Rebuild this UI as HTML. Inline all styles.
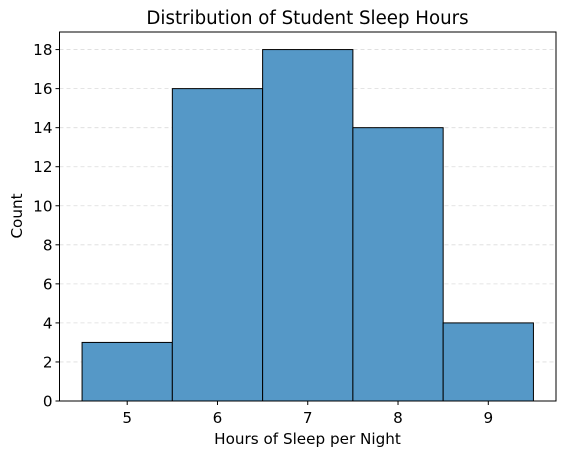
<!DOCTYPE html>
<html><head><meta charset="utf-8"><style>
body{margin:0;background:#fff;}
svg text{font-family:"DejaVu Sans","Liberation Sans",sans-serif;fill:#000;}
</style></head><body>
<svg id="chart" width="565" height="457" viewBox="0 0 565 457" xmlns="http://www.w3.org/2000/svg">
<text x="307.5" y="24" font-size="18.2" text-anchor="middle">Distribution of Student Sleep Hours</text>
<g id="grid"></g>
<g id="bars"></g>
<g id="axes"></g>
<text x="307.5" y="444" font-size="15.2" text-anchor="middle">Hours of Sleep per Night</text>
<text x="22" y="216" font-size="15.2" text-anchor="middle" transform="rotate(-90 22 216)">Count</text>
</svg>
<script>
const categories = [5, 6, 7, 8, 9];
const counts = [3, 16, 18, 14, 4];
const yTicks = [0, 2, 4, 6, 8, 10, 12, 14, 16, 18];
const xTicks = [5, 6, 7, 8, 9];

const L = 59.5, R = 556, T = 32, B = 401;
const xMin = 4.25, xMax = 9.75, yMin = 0, yMax = 18.9;
const xs = v => L + (v - xMin) / (xMax - xMin) * (R - L);
const ys = v => B - (v - yMin) / (yMax - yMin) * (B - T);
const NS = "http://www.w3.org/2000/svg";
function mk(tag, attrs, parent) {
  const e = document.createElementNS(NS, tag);
  for (const k in attrs) e.setAttribute(k, attrs[k]);
  parent.appendChild(e);
  return e;
}
const grid = document.getElementById('grid');
const bars = document.getElementById('bars');
const axes = document.getElementById('axes');

yTicks.forEach(t => {
  const g = mk('line', {x1: L, x2: R, y1: ys(t), y2: ys(t), stroke: '#dcdcdc', 'stroke-width': 0.8, 'stroke-dasharray': '4,3'}, grid);
  
  
});

categories.forEach((c, i) => {
  const r = mk('rect', {x: xs(c - 0.5), y: ys(counts[i]), width: xs(c + 0.5) - xs(c - 0.5), height: ys(0) - ys(counts[i]), fill: '#5598c7', stroke: '#000', 'stroke-width': 1}, bars);
  
  
});

const frame = mk('rect', {x: L, y: T, width: R - L, height: B - T, fill: 'none', stroke: '#000', 'stroke-width': 1}, axes);



yTicks.forEach(t => {
  const y = ys(t);
  const tk = mk('line', {x1: L - 4, x2: L, y1: y, y2: y, stroke: '#000', 'stroke-width': 1}, axes);
  
  
  const lb = mk('text', {x: L - 7, y: y + 5.5, 'font-size': 15.2, 'text-anchor': 'end'}, axes);
  lb.textContent = t;
  
  
});
xTicks.forEach(t => {
  const x = xs(t);
  const tk = mk('line', {x1: x, x2: x, y1: B, y2: B + 4, stroke: '#000', 'stroke-width': 1}, axes);
  
  
  const lb = mk('text', {x: x, y: B + 22, 'font-size': 15.2, 'text-anchor': 'middle'}, axes);
  lb.textContent = t;
  
  
});
</script>
</body></html>
